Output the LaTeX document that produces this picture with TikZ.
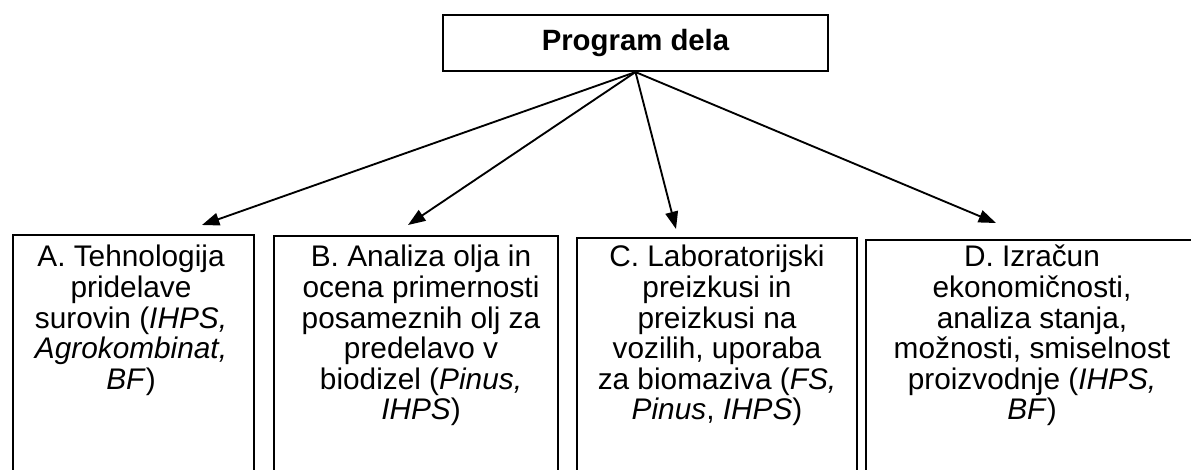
\documentclass[tikz,border=0pt]{standalone}
\usepackage{fontspec}
\setmainfont{Liberation Sans}
\usetikzlibrary{arrows.meta,positioning}

\tikzset{
  headbox/.style={draw, line width=1.6pt, minimum width=288.75pt, minimum height=42pt, inner sep=0pt},
  taskbox/.style={draw, line width=1.3pt, anchor=north west, minimum height=190pt, inner sep=0pt},
  tasktext/.style={anchor=north, inner sep=0pt, align=center, font=\fontsize{22.35}{22.95}\selectfont},
  feed/.style={line width=1.4pt, -{Triangle[length=13pt,width=9.5pt]}},
}

\begin{document}
\begin{tikzpicture}[x=0.75pt,y=0.75pt,yscale=-1,xscale=1]
	\clip (0,0) rectangle (1191,470);
	
	%Shape: Head box
	\draw (635.5,43) node (prog) [headbox] {\fontsize{22}{26}\selectfont\bfseries Program dela};
	
	%Shape: Task boxes
	\draw (12,234) node (boxA) [taskbox, minimum width=180.75pt] {};
	\draw (273,235) node (boxB) [taskbox, minimum width=213pt] {};
	\draw (576,237) node (boxC) [taskbox, minimum width=210pt] {};
	\draw (865,239) node (boxD) [taskbox, minimum width=270pt] {};
	
	% Arrow ends
	\coordinate (tipA) at (202,225);
	\coordinate (tipB) at (408,225);
	\coordinate (tipC) at (676,229);
	\coordinate (tipD) at (996,223);
	
	%Straight Lines: arrows
	\draw [feed] (prog.south) -- (tipA);
	\draw [feed] (prog.south) -- (tipB);
	\draw [feed] (prog.south) -- (tipC);
	\draw [feed] (prog.south) -- (tipD);
	
	% Text Node
	\draw (131,245) node (txtA) [tasktext] {A. Tehnologija\\ pridelave\\ surovin (\textit{IHPS,}\\ \textit{Agrokombinat,}\\ \textit{BF})};
	% Text Node
	\draw (421,245) node (txtB) [tasktext] {B. Analiza olja in\\ ocena primernosti\\ posameznih olj za\\ predelavo v\\ biodizel (\textit{Pinus,}\\ \textit{IHPS})};
	% Text Node
	\draw (717,245) node (txtC) [tasktext] {C. Laboratorijski\\ preizkusi in\\ preizkusi na\\ vozilih, uporaba\\ za biomaziva (\textit{FS,}\\ \textit{Pinus}, \textit{IHPS})};
	% Text Node
	\draw (1032,245) node (txtD) [tasktext] {D. Izračun\\ ekonomičnosti,\\ analiza stanja,\\ možnosti, smiselnost\\ proizvodnje (\textit{IHPS,}\\ \textit{BF})};
	
\end{tikzpicture}
\end{document}
